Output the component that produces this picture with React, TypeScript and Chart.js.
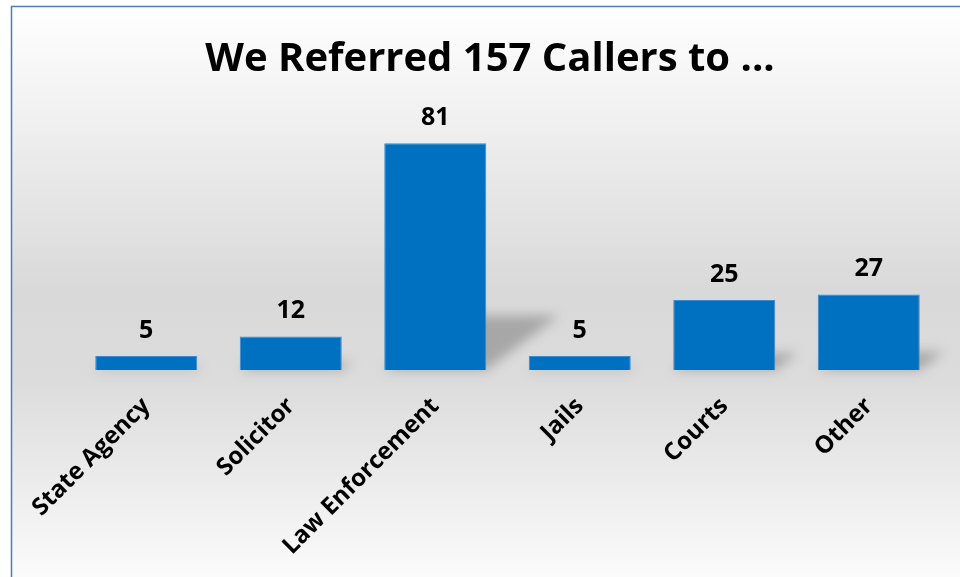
import React, { useEffect, useRef } from "react";
import { Chart, registerables } from "chart.js";

Chart.register(...registerables);

const categories = ["State Agency", "Solicitor", "Law Enforcement", "Jails", "Courts", "Other"];
const referrals = [5, 12, 81, 5, 25, 27];
const chartTitle = "We Referred 157 Callers to ...";

const FONT = "'Open Sans', Lato, sans-serif";

const backgroundPlugin = {
  id: "bgFrame",
  beforeDraw(chart: any) {
    const { ctx, width, height } = chart;
    ctx.save();
    ctx.fillStyle = "#ffffff";
    ctx.fillRect(0, 0, width, height);
    const g = ctx.createLinearGradient(0, 6, 0, height);
    g.addColorStop(0, "#ffffff");
    g.addColorStop(0.12, "#f6f6f6");
    g.addColorStop(0.5, "#d9d9d9");
    g.addColorStop(0.66, "#dcdcdc");
    g.addColorStop(1, "#fbfbfb");
    ctx.fillStyle = g;
    ctx.fillRect(12, 7, width, height);
    ctx.strokeStyle = "#4a7ebb";
    ctx.lineWidth = 1.5;
    ctx.beginPath();
    ctx.moveTo(11.5, height + 5);
    ctx.lineTo(11.5, 6.5);
    ctx.lineTo(width + 5, 6.5);
    ctx.stroke();
    ctx.restore();
  },
};

const titlePlugin = {
  id: "frameTitle",
  afterDraw(chart: any) {
    const { ctx } = chart;
    ctx.save();
    ctx.font = `bold 40px ${FONT}`;
    ctx.fillStyle = "#000000";
    ctx.textAlign = "center";
    ctx.textBaseline = "alphabetic";
    ctx.fillText(chartTitle, 490, 71);
    ctx.restore();
  },
};

const shadowPlugin = {
  id: "barShadows",
  beforeDatasetsDraw(chart: any) {
    const { ctx } = chart;
    const meta = chart.getDatasetMeta(0);
    ctx.save();
    ctx.filter = "blur(6px)";
    ctx.fillStyle = "rgba(60,60,60,0.32)";
    meta.data.forEach((bar: any) => {
      const props = bar.getProps(["x", "y", "base", "width"], true);
      const h = props.base - props.y;
      const left = props.x - props.width / 2;
      const right = props.x + props.width / 2;
      const dx = h * 0.32;
      const dy = h * 0.24;
      ctx.beginPath();
      ctx.moveTo(left, props.base);
      ctx.lineTo(right, props.base);
      ctx.lineTo(right + dx, props.base - dy);
      ctx.lineTo(left + dx, props.base - dy);
      ctx.closePath();
      ctx.fill();
    });
    ctx.restore();
  },
};

const valueLabelPlugin = {
  id: "valueLabels",
  afterDatasetsDraw(chart: any) {
    const { ctx } = chart;
    const meta = chart.getDatasetMeta(0);
    const data = chart.data.datasets[0].data;
    ctx.save();
    ctx.font = `bold 25px ${FONT}`;
    ctx.fillStyle = "#000000";
    ctx.textAlign = "center";
    ctx.textBaseline = "alphabetic";
    meta.data.forEach((bar: any, i: number) => {
      const p = bar.getProps(["x", "y"], true);
      ctx.fillText(String(data[i]), p.x, p.y - 18);
    });
    ctx.restore();
  },
};

export default function App() {
  const ref = useRef<HTMLCanvasElement | null>(null);

  useEffect(() => {
    if (!ref.current) return;
    const chart = new Chart(ref.current, {
      type: "bar",
      data: {
        labels: categories,
        datasets: [
          {
            data: referrals,
            backgroundColor: "#0070c0",
            borderColor: "#3a8ad0",
            borderWidth: 1,
            categoryPercentage: 1,
            barPercentage: 0.706,
          },
        ],
      },
      options: {
        responsive: false,
        animation: false,
        layout: { padding: { left: 74, right: 19, top: 118, bottom: 0 } },
        plugins: {
          legend: { display: false },
          tooltip: { enabled: false },
          title: { display: false },
        },
        scales: {
          x: {
            grid: { display: false },
            border: { display: false },
            ticks: {
              color: "#000000",
              font: { family: FONT, size: 24, weight: "bold" },
              minRotation: 45,
              maxRotation: 45,
              padding: 14,
            },
            afterFit(scale: any) {
              scale.height = 207;
            },
          },
          y: {
            display: false,
            min: 0,
            max: 90,
          },
        },
      },
      plugins: [backgroundPlugin, shadowPlugin, valueLabelPlugin, titlePlugin],
    });
    return () => chart.destroy();
  }, []);

  return (
    <div style={{ position: "fixed", left: 0, top: 0, width: 960, height: 577 }}>
      <canvas ref={ref} width={960} height={577} style={{ width: 960, height: 577, display: "block" }} />
    </div>
  );
}
